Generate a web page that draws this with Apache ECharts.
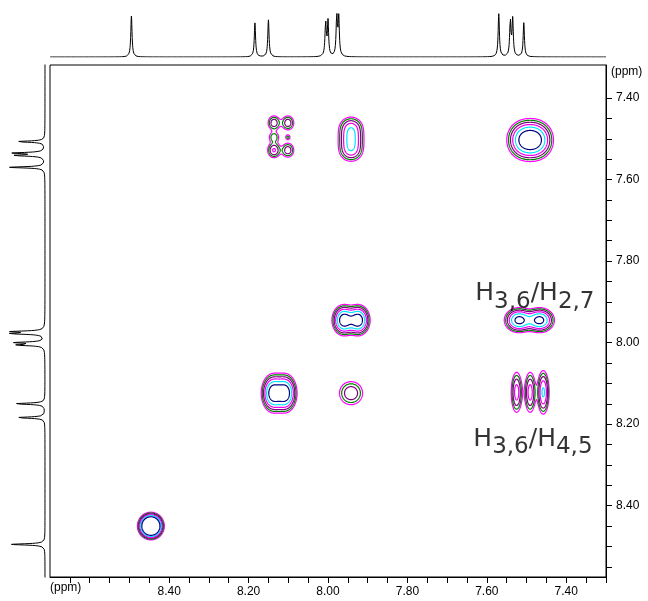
<!DOCTYPE html>
<html>
<head>
<meta charset="utf-8">
<script src="https://cdn.jsdelivr.net/npm/echarts@6/dist/echarts.min.js"></script>
<style>
  html, body { margin: 0; padding: 0; background: #fff; }
  #c { width: 648px; height: 601px; }
</style>
</head>
<body>
<div id="c"></div>
<script>
// ---- axis ranges (ppm) ----
const F2_MIN = 7.30, F2_MAX = 8.70;
const F1_MIN = 7.319, F1_MAX = 8.575;

// ---- tick marks and labels ----
const f2TickValues = [8.65, 8.60, 8.55, 8.50, 8.45, 8.40, 8.35, 8.30, 8.25, 8.20, 8.15, 8.10, 8.05, 8.00,
                      7.95, 7.90, 7.85, 7.80, 7.75, 7.70, 7.65, 7.60, 7.55, 7.50, 7.45, 7.40, 7.35, 7.30];
const f2LabelValues = [8.40, 8.20, 8.00, 7.80, 7.60, 7.40];
const f1TickValues = [7.40, 7.45, 7.50, 7.55, 7.60, 7.65, 7.70, 7.75, 7.80, 7.85, 7.90, 7.95, 8.00,
                      8.05, 8.10, 8.15, 8.20, 8.25, 8.30, 8.35, 8.40, 8.45, 8.50, 8.55];
const f1LabelValues = [7.40, 7.60, 7.80, 8.00, 8.20, 8.40];

// ---- 1D 1H projection: line positions (ppm) and heights ----
const lineShifts  = [8.495, 8.184, 8.150, 8.006, 8.000, 7.978, 7.973, 7.570, 7.541, 7.535, 7.507];
const lineHeights = [41, 34, 37, 34, 35, 40, 38, 43, 36, 37, 34];
const lineHalfWidth = 0.0019;

// ---- 2D COSY peak components (F2 ppm, F1 ppm, amplitude, widths) ----
const peakF2  = [8.446,
                 8.138, 8.108,
                 7.960, 7.924,
                 7.506, 7.476,
                 7.942, 7.942, 7.942,
                 7.942,
                 8.136, 8.101, 8.136, 8.101, 8.136, 8.101,
                 7.519, 7.467,
                 7.525, 7.491, 7.458];
const peakF1  = [8.450,
                 8.124, 8.124,
                 7.945, 7.945,
                 7.503, 7.503,
                 7.474, 7.501, 7.528,
                 8.124,
                 7.461, 7.461, 7.496, 7.496, 7.528, 7.528,
                 7.945, 7.945,
                 8.122, 8.122, 8.122];
const peakAmp = [40,
                 10.2, 10.2,
                 10.2, 10.2,
                 8, 8,
                 4.2, 4.2, 4.2,
                 3.3,
                 3.0, 3.0, 2.0, 1.6, 3.6, 3.0,
                 8.9, 8.9,
                 4.2, 4.2, 5.5];
const peakSdF2 = [0.0125,
                  0.0140, 0.0140,
                  0.0140, 0.0140,
                  0.0214, 0.0214,
                  0.0170, 0.0170, 0.0170,
                  0.0188,
                  0.0100, 0.0100, 0.0095, 0.0050, 0.0100, 0.0100,
                  0.0178, 0.0178,
                  0.0081, 0.0081, 0.0081];
const peakSdF1 = [0.0125,
                  0.0222, 0.0222,
                  0.0178, 0.0178,
                  0.0235, 0.0235,
                  0.0160, 0.0160, 0.0160,
                  0.0183,
                  0.0115, 0.0115, 0.0090, 0.0050, 0.0115, 0.0115,
                  0.0147, 0.0147,
                  0.0289, 0.0289, 0.0289];

// ---- contour levels and their colours ----
const contourLevels = [1, 1.5, 2.25, 3.4, 5.1, 7.6];
const contourColors = ['#ff00ff', '#008000', '#800080', '#ee00ee', '#00e5ff', '#000080'];

// ---- assignment labels ----
const noteF2 = [7.479, 7.484];
const noteF1 = [7.886, 8.243];
const noteText = ['{h|H}{s|3,6}{h|/H}{s|2,7}', '{h|H}{s|3,6}{h|/H}{s|4,5}'];

// ---------------------------------------------------------------
// 2D intensity surface on a regular ppm grid
const STEP = 0.001;
const nx = Math.round((F2_MAX - F2_MIN) / STEP) + 1;
const ny = Math.round((F1_MAX - F1_MIN) / STEP) + 1;
const field = new Float32Array(nx * ny);
for (let p = 0; p < peakF2.length; p++) {
  const cx = peakF2[p], cy = peakF1[p], a = peakAmp[p], sx = peakSdF2[p], sy = peakSdF1[p];
  const i0 = Math.max(0, Math.floor((cx - 6 * sx - F2_MIN) / STEP));
  const i1 = Math.min(nx - 1, Math.ceil((cx + 6 * sx - F2_MIN) / STEP));
  const j0 = Math.max(0, Math.floor((cy - 6 * sy - F1_MIN) / STEP));
  const j1 = Math.min(ny - 1, Math.ceil((cy + 6 * sy - F1_MIN) / STEP));
  for (let j = j0; j <= j1; j++) {
    const dy = (F1_MIN + j * STEP - cy) / sy;
    const gy = Math.exp(-0.5 * dy * dy);
    for (let i = i0; i <= i1; i++) {
      const dx = (F2_MIN + i * STEP - cx) / sx;
      field[j * nx + i] += a * gy * Math.exp(-0.5 * dx * dx);
    }
  }
}

// marching squares, joined into polylines
function contourPaths(level) {
  const adj = new Map();
  const add = (a, b) => {
    if (!adj.has(a)) adj.set(a, []);
    if (!adj.has(b)) adj.set(b, []);
    adj.get(a).push(b);
    adj.get(b).push(a);
  };
  for (let j = 0; j < ny - 1; j++) {
    for (let i = 0; i < nx - 1; i++) {
      const k = j * nx + i;
      let c = 0;
      if (field[k] > level) c |= 1;
      if (field[k + 1] > level) c |= 2;
      if (field[k + nx + 1] > level) c |= 4;
      if (field[k + nx] > level) c |= 8;
      if (c === 0 || c === 15) continue;
      const e0 = k * 2, e1 = (k + 1) * 2 + 1, e2 = (k + nx) * 2, e3 = k * 2 + 1;
      switch (c) {
        case 1: case 14: add(e3, e0); break;
        case 2: case 13: add(e0, e1); break;
        case 3: case 12: add(e3, e1); break;
        case 4: case 11: add(e1, e2); break;
        case 6: case 9: add(e0, e2); break;
        case 7: case 8: add(e3, e2); break;
        case 5: add(e3, e0); add(e1, e2); break;
        case 10: add(e0, e1); add(e2, e3); break;
      }
    }
  }
  const pt = id => {
    const k = id >> 1, i = k % nx, j = (k - i) / nx;
    const v0 = field[k];
    if ((id & 1) === 0) {
      const t = (level - v0) / (field[k + 1] - v0);
      return [F2_MIN + (i + t) * STEP, F1_MIN + j * STEP];
    }
    const t = (level - v0) / (field[k + nx] - v0);
    return [F2_MIN + i * STEP, F1_MIN + (j + t) * STEP];
  };
  const seen = new Set();
  const trace = start => {
    const ids = [start];
    seen.add(start);
    let cur = start;
    for (;;) {
      const next = adj.get(cur).find(n => !seen.has(n));
      if (next === undefined) break;
      seen.add(next);
      ids.push(next);
      cur = next;
    }
    if (ids.length > 2 && adj.get(cur).includes(start)) ids.push(start);
    return ids.map(pt);
  };
  const paths = [];
  for (const [id, nb] of adj) if (nb.length === 1 && !seen.has(id)) paths.push(trace(id));
  for (const id of adj.keys()) if (!seen.has(id)) paths.push(trace(id));
  return paths;
}

// 1D trace from the line list
const trace1D = [];
for (let s = 0; s <= Math.round((F2_MAX - F2_MIN) / 0.0005); s++) {
  const p = F2_MIN + s * 0.0005;
  let v = 0;
  for (let k = 0; k < lineShifts.length; k++) {
    const u = (p - lineShifts[k]) / lineHalfWidth;
    v += lineHeights[k] / (1 + u * u);
  }
  trace1D.push([p, v]);
}

const series = [];
contourLevels.forEach((lv, idx) => {
  series.push({
    type: 'lines',
    coordinateSystem: 'cartesian2d',
    xAxisIndex: 0, yAxisIndex: 0,
    polyline: true,
    silent: true,
    lineStyle: { color: contourColors[idx], width: 1.2, opacity: 1 },
    data: contourPaths(lv).map(c => ({ coords: c })),
    z: 2 + idx
  });
});
series.push({
  type: 'line', xAxisIndex: 1, yAxisIndex: 1, showSymbol: false, silent: true,
  lineStyle: { color: '#000', width: 1 }, data: trace1D
});
series.push({
  type: 'line', xAxisIndex: 2, yAxisIndex: 2, showSymbol: false, silent: true,
  lineStyle: { color: '#000', width: 1 }, data: trace1D.map(d => [d[1], d[0]])
});
series.push({
  type: 'scatter', xAxisIndex: 0, yAxisIndex: 0, symbolSize: 0, silent: true,
  data: noteF2.map((x, i) => ({ value: [x, noteF1[i]], text: noteText[i] })),
  label: {
    show: true, position: 'inside', color: '#000',
    formatter: p => p.data.text,
    rich: {
      h: { fontSize: 25, fontFamily: 'DejaVu Sans', color: '#000', verticalAlign: 'bottom', lineHeight: 34, padding: [0, 0, 7, 0] },
      s: { fontSize: 23, fontFamily: 'DejaVu Sans', color: '#000', verticalAlign: 'bottom', lineHeight: 34 }
    }
  },
  z: 20
});

const axisFont = { color: '#000', fontSize: 12, fontFamily: 'Liberation Sans' };
const option = {
  animation: false,
  backgroundColor: '#fff',
  grid: [
    { left: 50, top: 65, width: 556, height: 512, show: true, borderColor: '#000', borderWidth: 1, backgroundColor: 'transparent' },
    { left: 50, top: 0, width: 556, height: 57 },
    { left: 0, top: 65, width: 45, height: 512 }
  ],
  xAxis: [
    {
      gridIndex: 0, type: 'value', min: F2_MIN, max: F2_MAX, inverse: true, position: 'bottom',
      axisLine: { show: true, onZero: false, lineStyle: { color: '#000', width: 1 } },
      axisTick: { show: true, customValues: f2TickValues, length: 6, lineStyle: { color: '#000' } },
      axisLabel: { customValues: f2LabelValues, formatter: v => v.toFixed(2), margin: 9, ...axisFont },
      splitLine: { show: false }
    },
    { gridIndex: 1, type: 'value', min: F2_MIN, max: F2_MAX, inverse: true, show: false },
    { gridIndex: 2, type: 'value', min: 0, max: 55, inverse: true, show: false }
  ],
  yAxis: [
    {
      gridIndex: 0, type: 'value', min: F1_MIN, max: F1_MAX, inverse: true, position: 'right',
      axisLine: { show: true, onZero: false, lineStyle: { color: '#000', width: 1 } },
      axisTick: { show: true, customValues: f1TickValues, length: 6, lineStyle: { color: '#000' } },
      axisLabel: { customValues: f1LabelValues, formatter: v => v.toFixed(2), margin: 10, ...axisFont },
      splitLine: { show: false }
    },
    { gridIndex: 1, type: 'value', min: 0, max: 57, show: false },
    { gridIndex: 2, type: 'value', min: F1_MIN, max: F1_MAX, inverse: true, show: false }
  ],
  graphic: [
    { type: 'text', left: 611, top: 66, style: { text: '(ppm)', fill: '#000', font: '12px "Liberation Sans"' } },
    { type: 'text', left: 50, top: 582, style: { text: '(ppm)', fill: '#000', font: '12px "Liberation Sans"' } }
  ],
  series
};

const chart = echarts.init(document.getElementById('c'));
chart.setOption(option);
</script>
</body>
</html>
